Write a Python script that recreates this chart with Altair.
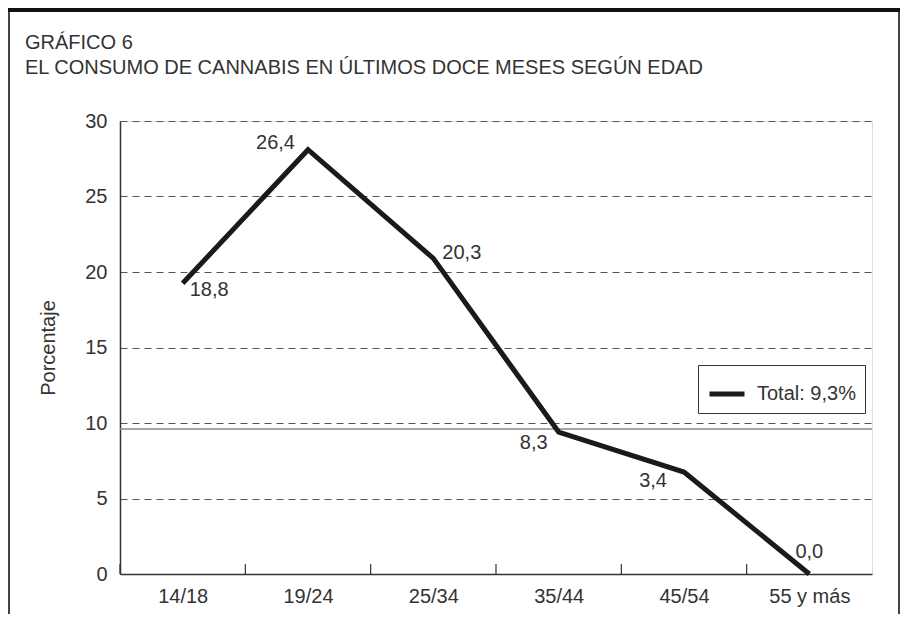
import altair as alt
import pandas as pd

# ---- data ----
categories = ["14/18", "19/24", "25/34", "35/44", "45/54", "55 y más"]
plotted = [19.25, 28.1, 20.9, 9.4, 6.75, 0.0]          # line positions as drawn
labels = ["18,8", "26,4", "20,3", "8,3", "3,4", "0,0"]  # printed value labels
series_name = "Total: 9,3%"
total_level = 9.6
y_ticks = [0, 5, 10, 15, 20, 25, 30]
title_lines = ["GRÁFICO 6", "EL CONSUMO DE CANNABIS EN ÚLTIMOS DOCE MESES SEGÚN EDAD"]
y_title = "Porcentaje"

# ---- styling ----
W, H = 752, 453
FONT = "Liberation Sans"
FW = "normal"
TXT = "#333333"
LINE = "#1a1a1a"
FS = 20

df = pd.DataFrame({"edad": categories, "valor": plotted, "etiqueta": labels,
                   "serie": [series_name] * len(categories)})

x_scale = alt.Scale(type="point", domain=categories, padding=0.5)
y_scale = alt.Scale(domain=[0, 30], nice=False)

x_axis = alt.Axis(title=None, labelAngle=0, ticks=False, tickSize=0, grid=False,
                  domainColor="#333333", domainWidth=1.5, labelPadding=12,
                  labelFontSize=FS, labelFont=FONT, labelFontWeight=FW, labelColor=TXT)
y_axis = alt.Axis(values=y_ticks, ticks=False, tickSize=0, grid=True,
                  gridDash=[7, 5], gridColor="#555555", gridWidth=1,
                  domainColor="#333333", domainWidth=1.5, labelPadding=13,
                  labelFontSize=FS, labelFont=FONT, labelFontWeight=FW, labelColor=TXT,
                  title=y_title, titleFont=FONT, titleFontWeight=FW, titleFontSize=FS,
                  titleColor=TXT, titleAngle=-90, titleX=-72, titleY=H / 2,
                  titleAlign="center", titleBaseline="middle")

base = alt.Chart(df)

# frame around the whole figure
frame = base.mark_rect(filled=False, stroke="#444444", strokeWidth=2).encode(
    x=alt.value(-111), x2=alt.value(779), y=alt.value(-111), y2=alt.value(H + 120))
top_bar = base.mark_rect(color="#111111").encode(
    x=alt.value(-112), x2=alt.value(780), y=alt.value(-113), y2=alt.value(-109))

# title lines
t1 = alt.Chart(pd.DataFrame({"t": [title_lines[0]]})).mark_text(
    align="left", baseline="alphabetic", font=FONT, fontWeight=FW, fontSize=FS, color=TXT
).encode(x=alt.value(-95), y=alt.value(-72), text="t:N")
t2 = alt.Chart(pd.DataFrame({"t": [title_lines[1]]})).mark_text(
    align="left", baseline="alphabetic", font=FONT, fontWeight=FW, fontSize=FS, color=TXT
).encode(x=alt.value(-95), y=alt.value(-47), text="t:N")

# inward category-boundary ticks on the x axis
ticks = base.mark_rule(color="#333333", strokeWidth=1.2, xOffset=-W / 12).encode(
    x=alt.X("edad:N", scale=x_scale, axis=x_axis),
    y=alt.value(H), y2=alt.value(H - 10))

# total reference level
total_rule = alt.Chart(pd.DataFrame({"v": [total_level]})).mark_rule(
    color="#8a8a8a", strokeWidth=1.5).encode(y=alt.Y("v:Q", scale=y_scale, axis=y_axis))

line = base.mark_line(strokeWidth=5, strokeJoin="miter").encode(
    x=alt.X("edad:N", scale=x_scale, axis=x_axis),
    y=alt.Y("valor:Q", scale=y_scale, axis=y_axis),
    color=alt.Color("serie:N", scale=alt.Scale(range=[LINE]),
                    legend=alt.Legend(title=None, orient="none", legendX=578, legendY=244,
                                      symbolType="stroke", symbolStrokeWidth=5,
                                      symbolSize=1225, symbolStrokeColor=LINE,
                                      strokeColor="#333333", fillColor="white",
                                      padding=9, labelFontSize=FS, labelFont=FONT,
                                      labelFontWeight=FW, labelColor=TXT, labelOffset=10,
                                      cornerRadius=0)))

offsets = {
    "14/18": ("left", 7, 7),
    "19/24": ("right", -13, -7),
    "25/34": ("left", 9, -5),
    "35/44": ("right", -11, 11),
    "45/54": ("right", -17, 9),
    "55 y más": ("center", 0, -22),
}
label_layers = []
for cat in categories:
    al, dx, dy = offsets[cat]
    label_layers.append(
        alt.Chart(df[df["edad"] == cat]).mark_text(
            align=al, baseline="middle", dx=dx, dy=dy, font=FONT, fontWeight=FW,
            fontSize=FS, color=TXT
        ).encode(x=alt.X("edad:N", scale=x_scale, axis=x_axis),
                 y=alt.Y("valor:Q", scale=y_scale, axis=y_axis),
                 text="etiqueta:N")
    )

chart = alt.layer(frame, top_bar, t1, t2, total_rule, ticks, line, *label_layers).properties(
    width=W, height=H,
    autosize=alt.AutoSizeParams(type="none"),
    padding={"left": 112, "top": 113, "right": 29, "bottom": 40},
).configure_view(stroke="#333333", strokeWidth=1.5).configure(background="white")

chart.save("out.html", embed_options={"renderer": "svg", "actions": False})
